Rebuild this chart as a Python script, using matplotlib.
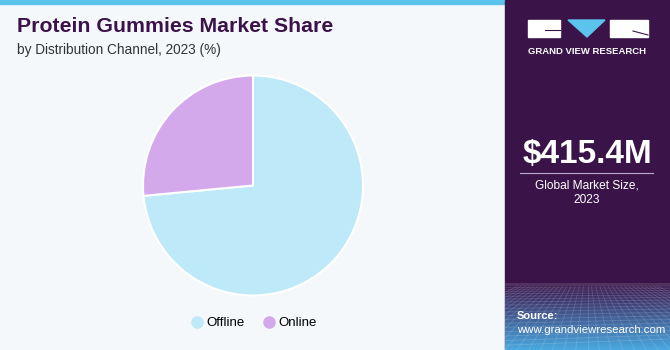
import numpy as np
import matplotlib
matplotlib.use("Agg")
import matplotlib.pyplot as plt
from matplotlib.patches import Rectangle, Polygon
from matplotlib.lines import Line2D

categories = ["Offline", "Online"]
shares = [73.5, 26.5]
colors = ["#bde9f9", "#d4a9eb"]
title = "Protein Gummies Market Share"
subtitle = "by Distribution Channel, 2023 (%)"
market_size = "$415.4M"
market_label = "Global Market Size,\n2023"

W, H = 670, 350
fig = plt.figure(figsize=(W / 100, H / 100), dpi=100)
fig.patch.set_facecolor("#f4f8fb")

def px(x, y):
    return x / W, 1 - y / H

# top strip
fig.add_artist(Rectangle((0, 1 - 4 / H), 505 / W, 4 / H, transform=fig.transFigure,
                         color="#5bc3ec", zorder=-2))
# right panel
fig.add_artist(Rectangle((505 / W, 0), 165 / W, 1, transform=fig.transFigure,
                         color="#3a1449", zorder=-2))

# gradient at bottom right
gax = fig.add_axes([505 / W, 0, 165 / W, 67 / H], zorder=1)
grad = np.linspace(0, 1, 100)[:, None]
c0 = np.array([0x3a, 0x14, 0x49]) / 255
c1 = np.array([0x4a, 0xa8, 0xe0]) / 255
img = c0[None, None, :] * (1 - grad[..., None]) + c1[None, None, :] * grad[..., None]
img = np.repeat(img, 10, axis=1)
gax.imshow(img, aspect="auto", extent=[0, 1, 0, 1], origin="upper")
for i in range(1, 22):
    yy = (i / 22) ** 1.6
    gax.plot([0, 1], [1 - yy, 1 - yy * 0.9], color="white", alpha=0.15, lw=0.6)
for i in range(-10, 25):
    x0 = i / 14
    gax.plot([x0, 0.5 + (x0 - 0.5) * 0.35], [0, 0.95], color="white", alpha=0.15, lw=0.6)
gax.set_xlim(0, 1)
gax.set_ylim(0, 1)
gax.axis("off")

# titles
fig.text(*px(17, 27), title, fontsize=15.3, fontweight="heavy", color="#3b1249",
         va="center", ha="left", family="Liberation Sans")
fig.text(*px(17, 50), subtitle, fontsize=9.8, color="#333333", va="center", ha="left",
         family="Liberation Sans")

# pie
cx, cy, r = 253, 185.5, 110
half = 115
ax = fig.add_axes([(cx - half) / W, (H - cy - half) / H, 2 * half / W, 2 * half / H])
ax.pie(shares, colors=colors, startangle=90, counterclock=False,
       wedgeprops=dict(edgecolor="white", linewidth=1.5))
lim = half / r
ax.set_xlim(-lim, lim)
ax.set_ylim(-lim, lim)
ax.set_aspect("equal")
ax.axis("off")

# legend
handles = [Line2D([], [], marker="o", linestyle="", markersize=8, markerfacecolor=c,
                  markeredgecolor=c) for c in colors]
fig.legend(handles, categories, loc="center", bbox_to_anchor=px(253, 323), ncol=2,
           frameon=False, handletextpad=0.1, columnspacing=1.3, handlelength=1.2,
           prop=dict(family="Liberation Sans", size=9.5))

# logo
lx = [(528, 560), (610, 648)]
for a, b in lx:
    fig.add_artist(Rectangle(px(a, 37), (b - a) / W, 17 / H, transform=fig.transFigure,
                             color="white", zorder=3))
fig.add_artist(Polygon([px(568, 20), px(605, 20), px(587, 37)], closed=True,
                       transform=fig.transFigure, color="#5bc3ec", zorder=3))
fig.add_artist(Line2D([px(545, 30)[0], px(560, 30)[0]], [px(545, 30)[1]] * 2,
                      transform=fig.transFigure, color="#3a1449", lw=0.8, zorder=4))
fig.add_artist(Line2D([px(633, 31)[0], px(648, 35)[0]], [px(633, 31)[1], px(648, 35)[1]],
                      transform=fig.transFigure, color="#3a1449", lw=0.8, zorder=4))
fig.text(*px(587, 51), "GRAND VIEW RESEARCH", fontsize=6.8, fontweight="bold",
         color="white", ha="center", va="center", family="Liberation Sans")

# market size
fig.text(*px(587, 155), market_size, fontsize=24, fontweight="bold", color="white",
         ha="center", va="center", family="Liberation Sans")
fig.add_artist(Line2D([px(520, 0)[0], px(653, 0)[0]], [px(0, 173)[1]] * 2,
                      transform=fig.transFigure, color="#bbaacc", lw=0.8))
fig.text(*px(587, 193), market_label, fontsize=8.6, color="white", ha="center",
         va="center", family="Liberation Sans", linespacing=1.3)

fig.text(*px(517, 316), "Source:", fontsize=8, fontweight="bold", color="white",
         ha="left", va="center", family="Liberation Sans", zorder=5)
fig.text(*px(517, 330), "www.grandviewresearch.com", fontsize=8.2,
         color="white", ha="left", va="center", family="Liberation Sans", zorder=5)

fig.savefig("out.png", dpi=100, facecolor=fig.get_facecolor())
